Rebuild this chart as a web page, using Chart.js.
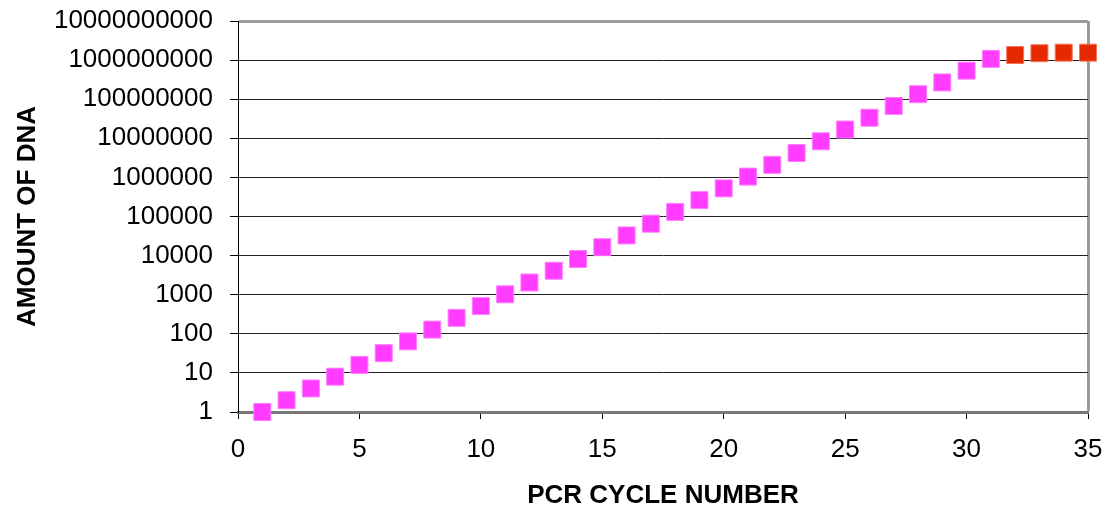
<!DOCTYPE html>
<html>
<head>
<meta charset="utf-8">
<script src="https://cdn.jsdelivr.net/npm/chart.js@4"></script>
<style>
  body { margin: 0; background: #fff; }
  canvas { display: block; }
</style>
</head>
<body>
<canvas id="pcrChart" width="1118" height="509"></canvas>
<script>
// cycles 1-31 (exponential phase) and 32-35 (plateau)
const expCycles = [1,2,3,4,5,6,7,8,9,10,11,12,13,14,15,16,17,18,19,20,21,22,23,24,25,26,27,28,29,30,31];
const expAmounts = [1,2,4,8,16,32,64,128,256,512,1024,2048,4096,8192,16384,32768,65536,131072,262144,524288,
    1048576,2097152,4194304,8388608,16777216,33554432,67108864,134217728,268435456,536870912,1073741824];
const plateauCycles = [32,33,34,35];
const plateauAmounts = [1350000000,1500000000,1550000000,1550000000];

const yTickValues = [1,10,100,1000,10000,100000,1000000,10000000,100000000,1000000000,10000000000];
const yTickLabels = ["1","10","100","1000","10000","100000","1000000","10000000","100000000","1000000000","10000000000"];
const xTickLabels = ["0","5","10","15","20","25","30","35"];

const toPoints = (xs, ys) => xs.map((x, i) => ({x: x, y: ys[i]}));

const tickFont = { family: "'Liberation Sans', Arial, sans-serif", size: 26 };
const titleFont = { family: "'Liberation Sans', Arial, sans-serif", size: 26, weight: 'bold', lineHeight: 1 };

new Chart(document.getElementById("pcrChart"), {
    type: 'scatter',
    data: {
        datasets: [{
            data: toPoints(expCycles, expAmounts),
            pointStyle: 'rect',
            pointRadius: 12,
            pointHoverRadius: 12,
            backgroundColor: '#FF3CFF',
            borderColor: '#FF7CFF',
            borderWidth: 1,
            clip: false
        }, {
            data: toPoints(plateauCycles, plateauAmounts),
            pointStyle: 'rect',
            pointRadius: 12,
            pointHoverRadius: 12,
            backgroundColor: '#E62A00',
            borderColor: '#F2755A',
            borderWidth: 1,
            clip: false
        }]
    },
    options: {
        responsive: false,
        animation: false,
        layout: { padding: { top: 21, right: 30, left: 0, bottom: 0 } },
        plugins: { legend: { display: false }, tooltip: { enabled: false } },
        scales: {
            x: {
                type: 'linear',
                min: 0,
                max: 35,
                afterBuildTicks: s => { s.ticks = xTickLabels.map(t => ({ value: Number(t) })); },
                afterFit: s => { s.height = 97; },
                ticks: {
                    font: tickFont,
                    color: '#000',
                    padding: 15,
                    maxRotation: 0,
                    autoSkip: false,
                    callback: (v, i) => xTickLabels[i]
                },
                grid: {
                    color: c => (c.tick && c.tick.value === 35) ? '#9A9A9A' : 'rgba(0,0,0,0)',
                    lineWidth: c => (c.tick && c.tick.value === 35) ? 3 : 1,
                    tickColor: '#000',
                    tickWidth: 1,
                    tickLength: 7
                },
                border: { color: '#777', width: 3 },
                title: {
                    display: true,
                    text: 'PCR CYCLE NUMBER',
                    font: titleFont,
                    color: '#000',
                    padding: { top: 0, bottom: 0 }
                }
            },
            y: {
                type: 'logarithmic',
                min: 1,
                max: 10000000000,
                afterBuildTicks: s => { s.ticks = yTickValues.map(v => ({ value: v })); },
                afterFit: s => { s.width = 238; s.paddingTop = 0; s.paddingBottom = 0; },
                ticks: {
                    font: tickFont,
                    color: '#000',
                    padding: 17,
                    autoSkip: false,
                    callback: (v, i) => yTickLabels[i]
                },
                grid: {
                    color: c => (c.tick && c.tick.value === 10000000000) ? '#9A9A9A' : '#222',
                    lineWidth: c => (c.tick && c.tick.value === 10000000000) ? 3 : 1,
                    tickColor: '#000',
                    tickWidth: 1,
                    tickLength: 8
                },
                border: { color: '#000', width: 1 },
                title: {
                    display: true,
                    text: 'AMOUNT OF DNA',
                    font: titleFont,
                    color: '#000',
                    padding: { top: 15, bottom: 0 }
                }
            }
        }
    }
});
</script>
</body>
</html>
